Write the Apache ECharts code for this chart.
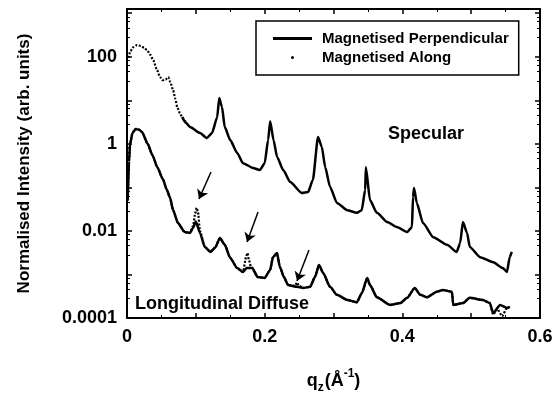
<!DOCTYPE html>
<html><head><meta charset="utf-8">
<script src="https://cdn.jsdelivr.net/npm/echarts@6/dist/echarts.min.js"></script>
<style>html,body{margin:0;padding:0;background:#fff}#c{width:559px;height:401px}</style>
</head><body><div id="c"></div><script>
// ---- tick labels ----
const xTickLabels = ['0', '0.2', '0.4', '0.6'];
const yTickValues = [0.0001, 0.01, 1, 100];
const yTickLabels = ['0.0001', '0.01', '1', '100'];
const seriesNames = ['Magnetised Perpendicular', 'Magnetised Along'];

// ---- Specular, Magnetised Along (visible only at low q; elsewhere it lies under the solid curve) ----
const specAlongQ = [0.002, 0.005, 0.009, 0.0145, 0.020, 0.025, 0.029, 0.034, 0.038, 0.0436, 0.048, 0.052, 0.056, 0.060, 0.063, 0.067, 0.070, 0.073, 0.077, 0.080, 0.086];
const specAlongI = [95, 135, 165, 186, 178, 160, 143, 110, 84, 50, 34, 29, 30, 34, 26, 17, 11, 7.0, 5.0, 4.1, 3.0];

// ---- Specular, Magnetised Perpendicular ----
const specPerpQ = [0.080, 0.086, 0.0915, 0.106, 0.116, 0.1235, 0.131, 0.134, 0.138, 0.142, 0.150, 0.160, 0.1685, 0.183, 0.193, 0.200, 0.205, 0.208, 0.213, 0.218, 0.227, 0.237, 0.254, 0.263, 0.270, 0.2775, 0.283, 0.288, 0.295, 0.305, 0.320, 0.334, 0.341, 0.346, 0.347, 0.353, 0.363, 0.378, 0.392, 0.407, 0.414, 0.4155, 0.417, 0.421, 0.430, 0.445, 0.465, 0.479, 0.484, 0.488, 0.494, 0.498, 0.513, 0.532, 0.546, 0.552, 0.556, 0.559];
const specPerpI = [4.1, 3.0, 2.44, 1.77, 1.36, 1.77, 4.1, 11.3, 7.0, 2.44, 1.22, 0.62, 0.36, 0.28, 0.25, 0.36, 1.22, 3.3, 1.2, 0.50, 0.25, 0.133, 0.074, 0.078, 0.148, 1.44, 0.85, 0.29, 0.102, 0.044, 0.030, 0.026, 0.030, 0.087, 0.29, 0.051, 0.026, 0.016, 0.0123, 0.0094, 0.0123, 0.060, 0.097, 0.044, 0.0152, 0.0072, 0.0048, 0.0033, 0.0053, 0.016, 0.009, 0.0043, 0.0025, 0.0019, 0.0014, 0.00114, 0.0025, 0.0033];

// ---- Longitudinal diffuse, Magnetised Perpendicular ----
const diffPerpQ = [0.001, 0.003, 0.0045, 0.008, 0.013, 0.018, 0.022, 0.030, 0.037, 0.044, 0.052, 0.058, 0.0625, 0.067, 0.074, 0.084, 0.0915, 0.096, 0.100, 0.106, 0.113, 0.121, 0.128, 0.135, 0.142, 0.150, 0.160, 0.1685, 0.174, 0.182, 0.190, 0.200, 0.208, 0.212, 0.218, 0.222, 0.228, 0.234, 0.247, 0.256, 0.266, 0.273, 0.279, 0.285, 0.295, 0.305, 0.320, 0.334, 0.341, 0.349, 0.353, 0.363, 0.382, 0.397, 0.407, 0.418, 0.426, 0.436, 0.450, 0.459, 0.472, 0.474, 0.488, 0.498, 0.517, 0.527, 0.532, 0.542, 0.552, 0.556];
const diffPerpI = [0.05, 0.4, 1.0, 1.8, 2.2, 2.1, 1.85, 1.0, 0.55, 0.29, 0.156, 0.087, 0.058, 0.030, 0.0152, 0.0094, 0.0090, 0.0117, 0.0165, 0.0090, 0.0043, 0.0033, 0.0041, 0.0069, 0.0048, 0.0024, 0.0014, 0.00114, 0.0014, 0.0014, 0.00087, 0.00083, 0.00127, 0.0025, 0.0031, 0.0015, 0.00087, 0.00057, 0.00052, 0.00049, 0.00052, 0.00087, 0.00165, 0.00108, 0.00052, 0.00034, 0.00026, 0.00023, 0.00037, 0.00083, 0.00057, 0.00030, 0.00020, 0.00022, 0.00029, 0.00049, 0.00034, 0.00030, 0.00040, 0.00044, 0.00040, 0.00020, 0.00022, 0.00029, 0.00026, 0.00022, 0.00013, 0.00020, 0.00017, 0.00018];

// ---- Longitudinal diffuse, Magnetised Along ----
const diffAlongQ = [0.001, 0.003, 0.0045, 0.008, 0.013, 0.018, 0.022, 0.030, 0.037, 0.044, 0.052, 0.058, 0.0625, 0.067, 0.074, 0.084, 0.0915, 0.096, 0.099, 0.101, 0.103, 0.106, 0.113, 0.121, 0.128, 0.135, 0.142, 0.150, 0.160, 0.1685, 0.173, 0.175, 0.177, 0.180, 0.190, 0.200, 0.208, 0.212, 0.218, 0.222, 0.228, 0.234, 0.244, 0.247, 0.250, 0.256, 0.266, 0.273, 0.279, 0.285, 0.295, 0.305, 0.320, 0.334, 0.341, 0.349, 0.353, 0.363, 0.382, 0.397, 0.407, 0.418, 0.426, 0.436, 0.450, 0.459, 0.472, 0.474, 0.488, 0.498, 0.517, 0.527, 0.532, 0.538, 0.545, 0.552, 0.556];
const diffAlongI = [0.05, 0.4, 1.0, 1.8, 2.2, 2.1, 1.85, 1.0, 0.55, 0.29, 0.156, 0.087, 0.058, 0.030, 0.0152, 0.0094, 0.0090, 0.013, 0.025, 0.034, 0.028, 0.010, 0.0043, 0.0033, 0.0041, 0.0069, 0.0048, 0.0024, 0.0014, 0.00114, 0.0025, 0.0031, 0.0022, 0.0015, 0.00087, 0.00083, 0.00127, 0.0025, 0.0031, 0.0015, 0.00087, 0.00057, 0.00055, 0.00065, 0.00055, 0.00049, 0.00052, 0.00087, 0.00165, 0.00108, 0.00052, 0.00034, 0.00026, 0.00023, 0.00037, 0.00083, 0.00057, 0.00030, 0.00020, 0.00022, 0.00029, 0.00049, 0.00034, 0.00030, 0.00040, 0.00044, 0.00040, 0.00020, 0.00022, 0.00029, 0.00026, 0.00022, 0.00012, 0.00016, 0.00011, 0.00017, 0.00018];

// ---- annotation arrows (from [q, I] to [q, I]) ----
const arrowFrom = [[0.122, 0.225], [0.1904, 0.0272], [0.2644, 0.00365]];
const arrowTo   = [[0.1046, 0.054], [0.1744, 0.00557], [0.247, 0.00071]];

const zip = (q, v) => q.map((x, i) => [x, v[i]]);
const FONT = "'Liberation Sans', Arial, Helvetica, sans-serif";

function yLabel(v) {
  const l = Math.log10(v);
  for (let i = 0; i < yTickValues.length; i++) {
    if (Math.abs(l - Math.log10(yTickValues[i])) < 1e-6) return yTickLabels[i];
  }
  return '';
}
function xLabel(v) {
  for (const s of xTickLabels) if (Math.abs(parseFloat(s) - v) < 1e-9) return s;
  return '';
}

const chart = echarts.init(document.getElementById('c'), null, {renderer: 'canvas'});
const axisLineStyle = {color: '#000', width: 2};
const baseX = {
  type: 'value', min: 0, max: 0.6, interval: 0.1, gridIndex: 0,
  axisLine: {show: true, onZero: false, lineStyle: axisLineStyle},
  axisTick: {show: true, inside: true, length: 5, lineStyle: {color: '#000', width: 1.5}},
  minorTick: {show: true, splitNumber: 2, length: 3, lineStyle: {color: '#000', width: 1}},
  splitLine: {show: false}
};
const baseY = {
  type: 'log', logBase: 10, min: 0.0001, max: 1250, gridIndex: 0,
  axisLine: {show: true, onZero: false, lineStyle: axisLineStyle},
  axisTick: {show: true, inside: true, length: 5, lineStyle: {color: '#000', width: 1.5}},
  minorTick: {show: true, splitNumber: 5, length: 3, lineStyle: {color: '#000', width: 1}},
  splitLine: {show: false}
};
const lineSmooth = {smooth: 0.2, smoothMonotone: 'x'};

chart.setOption({
  animation: false,
  backgroundColor: '#fff',
  grid: {left: 127, right: 19, top: 9, bottom: 83, containLabel: false},
  xAxis: [
    Object.assign({}, baseX, {
      position: 'bottom',
      axisLabel: {formatter: xLabel, margin: 10, fontSize: 18, fontWeight: 'bold', color: '#000', fontFamily: FONT},
      name: '{t|q}{s|z}{t|(Å}{p|-1}{t|)}',
      nameLocation: 'middle', nameGap: 50,
      nameTextStyle: {
        fontFamily: FONT, color: '#000',
        rich: {
          t: {fontSize: 18, fontWeight: 'bold', fontFamily: FONT, color: '#000', lineHeight: 26, verticalAlign: 'middle'},
          s: {fontSize: 12, fontWeight: 'bold', fontFamily: FONT, color: '#000', verticalAlign: 'bottom', lineHeight: 12, padding: [0, 1, 0, 0]},
          p: {fontSize: 12, fontWeight: 'bold', fontFamily: FONT, color: '#000', verticalAlign: 'top', lineHeight: 12}
        }
      }
    }),
    Object.assign({}, baseX, {position: 'top', axisLabel: {show: false}})
  ],
  yAxis: [
    Object.assign({}, baseY, {
      position: 'left',
      axisLabel: {formatter: yLabel, margin: 10, fontSize: 18, fontWeight: 'bold', color: '#000', fontFamily: FONT, showMaxLabel: false},
      name: 'Normalised Intensity (arb. units)',
      nameLocation: 'middle', nameGap: 94,
      nameTextStyle: {fontSize: 17, fontWeight: 'bold', color: '#000', fontFamily: FONT}
    }),
    Object.assign({}, baseY, {position: 'right', axisLabel: {show: false}})
  ],
  legend: {
    orient: 'vertical', left: 256, top: 21,
    padding: [10, 10, 10, 17], itemGap: 4,
    itemWidth: 39, itemHeight: 3,
    borderColor: '#000', borderWidth: 1.5,
    selectedMode: false,
    textStyle: {fontSize: 15, fontWeight: 'bold', color: '#000', fontFamily: FONT, padding: [0, 0, 0, 5]},
    data: [
      {name: seriesNames[0], icon: 'path://M0,0H40V3H0Z'},
      {name: seriesNames[1], icon: 'circle'}
    ]
  },
  graphic: [
    {type: 'text', left: 388, top: 125, style: {text: 'Specular', font: 'bold 18px ' + FONT, fill: '#000'}},
    {type: 'text', left: 135, top: 295, style: {text: 'Longitudinal Diffuse', font: 'bold 18px ' + FONT, fill: '#000'}}
  ],
  series: [
    Object.assign({name: seriesNames[1], type: 'line', data: zip(specAlongQ, specAlongI), symbol: 'none', color: '#000',
     lineStyle: {color: '#000', width: 2.2, type: [2, 1.6]}}, lineSmooth),
    Object.assign({name: seriesNames[1], type: 'line', data: zip(diffAlongQ, diffAlongI), symbol: 'none', color: '#000',
     lineStyle: {color: '#000', width: 2.2, type: [2, 1.6]}}, lineSmooth),
    Object.assign({name: seriesNames[0], type: 'line', data: zip(specPerpQ, specPerpI), symbol: 'none', color: '#000',
     lineStyle: {color: '#000', width: 2.5}}, lineSmooth),
    Object.assign({name: seriesNames[0], type: 'line', data: zip(diffPerpQ, diffPerpI), symbol: 'none', color: '#000',
     lineStyle: {color: '#000', width: 2.5},
     markLine: {
       silent: true, symbol: ['none', 'arrow'], symbolSize: 9,
       label: {show: false},
       lineStyle: {color: '#000', width: 1.5, type: 'solid'},
       data: arrowFrom.map((f, i) => [{coord: f}, {coord: arrowTo[i]}])
     }}, lineSmooth)
  ]
});
</script></body></html>
